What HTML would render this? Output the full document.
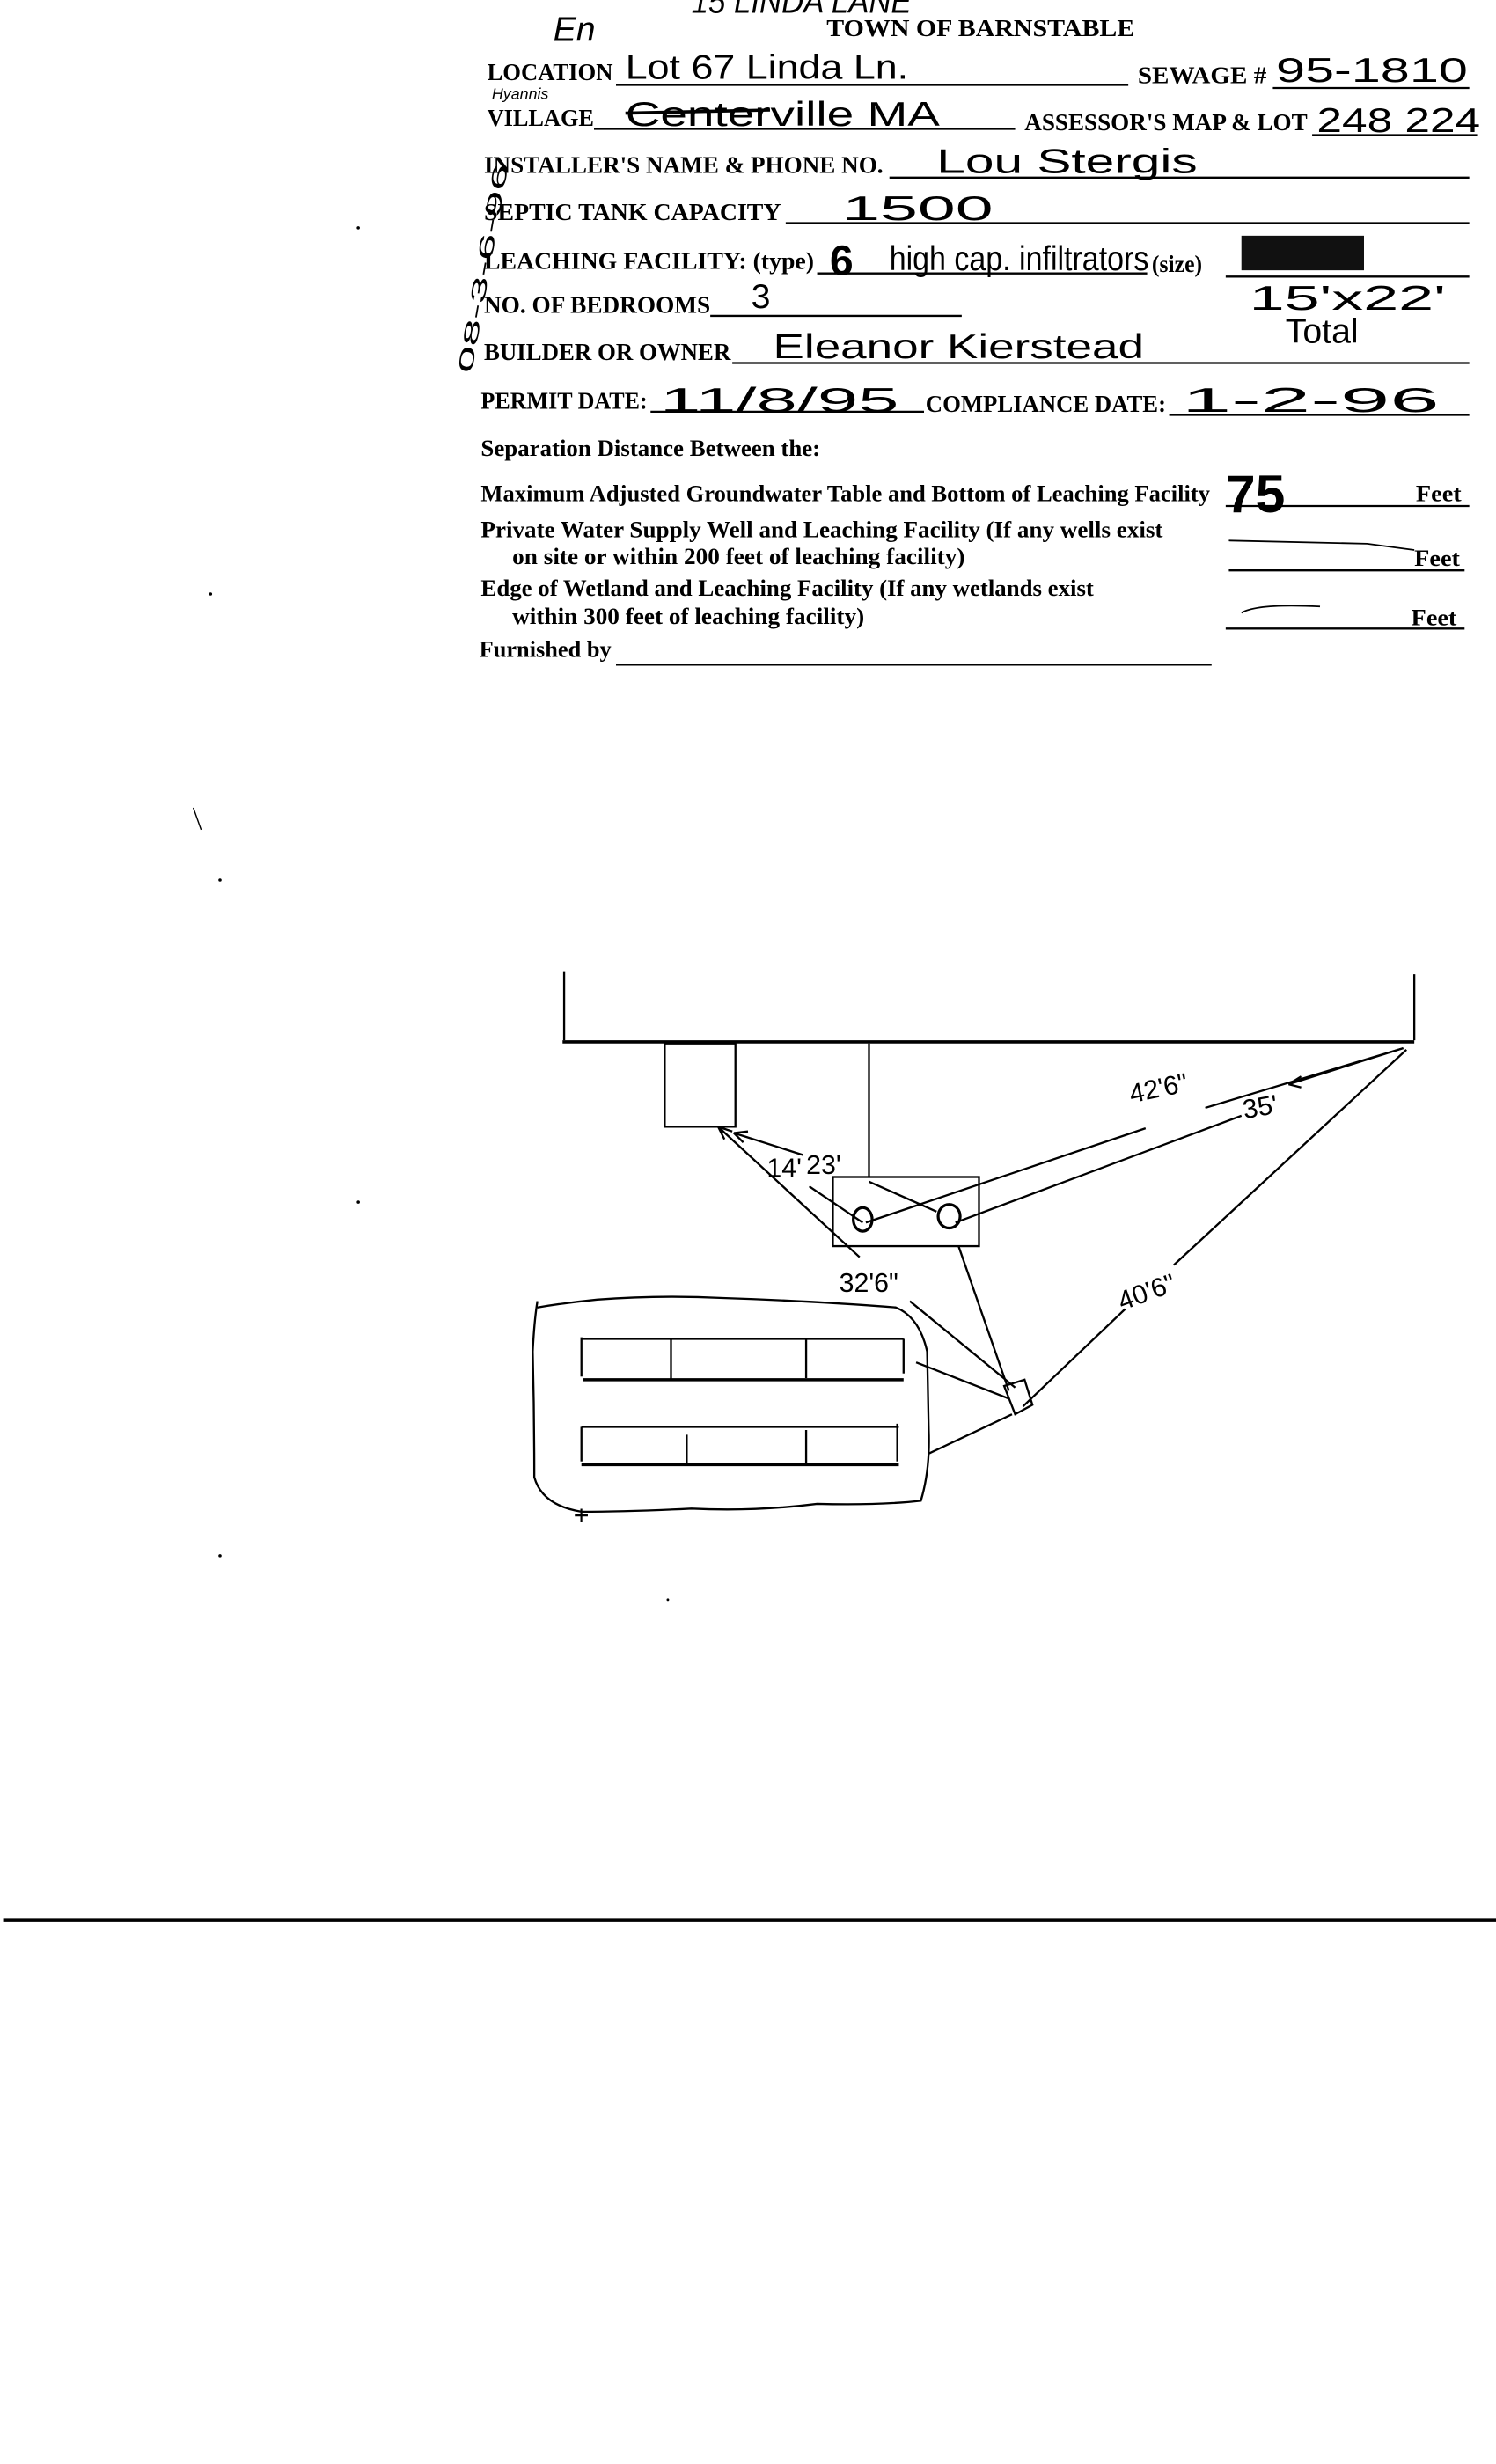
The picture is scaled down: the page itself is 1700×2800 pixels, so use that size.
<!DOCTYPE html>
<html><head><meta charset="utf-8"><style>
html,body{margin:0;padding:0;background:#fff;}
svg{display:block;}
.f{font-family:"Liberation Serif",serif;font-weight:bold;font-size:15.5px;fill:#000;}
.g{font-family:"Liberation Serif",serif;font-weight:bold;font-size:14.5px;fill:#000;}
.h{font-family:"Liberation Sans",sans-serif;font-size:22px;fill:#000;}
.d{font-family:"Liberation Sans",sans-serif;font-size:17px;fill:#000;}
</style></head><body>
<svg width="1700" height="2800" viewBox="0 0 952 1568" xmlns="http://www.w3.org/2000/svg">
<rect width="952" height="1568" fill="#fff"/>
<g stroke="#000" fill="none">
<line x1="392" y1="54" x2="718" y2="54" stroke-width="1.3"/>
<line x1="810" y1="56" x2="935" y2="56" stroke-width="1.3"/>
<line x1="378" y1="82" x2="646" y2="82" stroke-width="1.3"/>
<line x1="835" y1="86" x2="940" y2="86" stroke-width="1.3"/>
<line x1="566" y1="113" x2="935" y2="113" stroke-width="1.3"/>
<line x1="500" y1="142" x2="935" y2="142" stroke-width="1.3"/>
<line x1="520" y1="174" x2="730" y2="174" stroke-width="1.3"/>
<line x1="780" y1="176" x2="935" y2="176" stroke-width="1.3"/>
<line x1="452" y1="201" x2="612" y2="201" stroke-width="1.3"/>
<line x1="466" y1="231" x2="935" y2="231" stroke-width="1.3"/>
<line x1="414" y1="262" x2="588" y2="262" stroke-width="1.3"/>
<line x1="744" y1="264" x2="935" y2="264" stroke-width="1.3"/>
<line x1="780" y1="322" x2="935" y2="322" stroke-width="1.3"/>
<line x1="782" y1="363" x2="932" y2="363" stroke-width="1.3"/>
<line x1="780" y1="400" x2="932" y2="400" stroke-width="1.3"/>
<line x1="392" y1="423" x2="771" y2="423" stroke-width="1.3"/>
<path d="M782 344 L870 346 L900 350" stroke-width="1"/>
<path d="M790 390 Q800 384 840 386" stroke-width="1"/>
</g>
<text class="f" x="526" y="23" textLength="196" lengthAdjust="spacingAndGlyphs">TOWN OF BARNSTABLE</text>
<text class="f" x="310" y="51" textLength="80" lengthAdjust="spacingAndGlyphs">LOCATION</text>
<text class="f" x="724" y="53" textLength="82" lengthAdjust="spacingAndGlyphs">SEWAGE #</text>
<text class="f" x="310" y="80" textLength="68" lengthAdjust="spacingAndGlyphs">VILLAGE</text>
<text class="f" x="652" y="83" textLength="180" lengthAdjust="spacingAndGlyphs">ASSESSOR'S MAP &amp; LOT</text>
<text class="f" x="308" y="110" textLength="254" lengthAdjust="spacingAndGlyphs">INSTALLER'S NAME &amp; PHONE NO.</text>
<text class="f" x="308" y="140" textLength="189" lengthAdjust="spacingAndGlyphs">SEPTIC TANK CAPACITY</text>
<text class="f" x="308" y="171" textLength="210" lengthAdjust="spacingAndGlyphs">LEACHING FACILITY: (type)</text>
<text class="f" x="733" y="173" textLength="32" lengthAdjust="spacingAndGlyphs">(size)</text>
<text class="f" x="308" y="199" textLength="144" lengthAdjust="spacingAndGlyphs">NO. OF BEDROOMS</text>
<text class="f" x="308" y="229" textLength="157" lengthAdjust="spacingAndGlyphs">BUILDER OR OWNER</text>
<text class="f" x="306" y="260" textLength="106" lengthAdjust="spacingAndGlyphs">PERMIT DATE:</text>
<text class="f" x="589" y="262" textLength="153" lengthAdjust="spacingAndGlyphs">COMPLIANCE DATE:</text>
<text class="g" x="306" y="290" textLength="216" lengthAdjust="spacingAndGlyphs">Separation Distance Between the:</text>
<text class="g" x="306" y="319" textLength="464" lengthAdjust="spacingAndGlyphs">Maximum Adjusted Groundwater Table and Bottom of Leaching Facility</text>
<text class="g" x="901" y="319" textLength="29" lengthAdjust="spacingAndGlyphs">Feet</text>
<text class="g" x="306" y="342" textLength="434" lengthAdjust="spacingAndGlyphs">Private Water Supply Well and Leaching Facility  (If any wells exist</text>
<text class="g" x="326" y="359" textLength="288" lengthAdjust="spacingAndGlyphs">on site or within 200 feet of leaching facility)</text>
<text class="g" x="900" y="360" textLength="29" lengthAdjust="spacingAndGlyphs">Feet</text>
<text class="g" x="306" y="379" textLength="390" lengthAdjust="spacingAndGlyphs">Edge of Wetland and Leaching Facility (If any wetlands exist</text>
<text class="g" x="326" y="397" textLength="224" lengthAdjust="spacingAndGlyphs">within 300 feet of leaching facility)</text>
<text class="g" x="898" y="398" textLength="29" lengthAdjust="spacingAndGlyphs">Feet</text>
<text class="g" x="305" y="418" textLength="84" lengthAdjust="spacingAndGlyphs">Furnished by</text>
<text class="h" x="440" y="8" font-size="14" textLength="140" lengthAdjust="spacingAndGlyphs" font-style="italic">15 LINDA LANE</text>
<text class="h" x="352" y="26" font-size="16" font-style="italic">En</text>
<text class="h" x="398" y="50" textLength="180" lengthAdjust="spacingAndGlyphs">Lot 67 Linda Ln.</text>
<text class="h" x="812" y="52" textLength="122" lengthAdjust="spacingAndGlyphs">95-1810</text>
<text class="h" x="313" y="63" style="font-size:10px" font-style="italic">Hyannis</text>
<text class="h" x="398" y="80" textLength="200" lengthAdjust="spacingAndGlyphs">Centerville MA</text>
<line x1="398" y1="72" x2="490" y2="70" stroke="#000" stroke-width="2"/>
<text class="h" x="838" y="84" textLength="104" lengthAdjust="spacingAndGlyphs">248 224</text>
<text class="h" x="596" y="110" textLength="166" lengthAdjust="spacingAndGlyphs">Lou Stergis</text>
<text class="h" x="536" y="140" textLength="96" lengthAdjust="spacingAndGlyphs">1500</text>
<text class="h" x="528" y="175" style="font-size:27px;font-weight:bold">6</text>
<text class="h" x="566" y="172" font-size="17" textLength="165" lengthAdjust="spacingAndGlyphs">high cap. infiltrators</text>
<rect x="790" y="150" width="78" height="22" fill="#111"/>
<text class="h" x="478" y="196" font-size="24">3</text>
<text class="h" x="795" y="197" font-size="20" textLength="125" lengthAdjust="spacingAndGlyphs">15'x22'</text>
<text class="h" x="818" y="218" font-size="18">Total</text>
<text class="h" x="492" y="228" textLength="236" lengthAdjust="spacingAndGlyphs">Eleanor  Kierstead</text>
<text class="h" x="420" y="262" font-size="26" textLength="152" lengthAdjust="spacingAndGlyphs">11/8/95</text>
<text class="h" x="752" y="262" font-size="26" textLength="164" lengthAdjust="spacingAndGlyphs">1-2-96</text>
<text class="h" x="780" y="326" style="font-size:34px;font-weight:bold">75</text>
<text class="h" x="0" y="0" style="font-size:13px" transform="translate(300,238) rotate(-80)" textLength="135" lengthAdjust="spacingAndGlyphs">08-3-6-96</text>
<g fill="#000"><circle cx="228" cy="145" r="1"/><circle cx="134" cy="378" r="1"/><circle cx="140" cy="560" r="1"/><circle cx="228" cy="765" r="1"/><circle cx="140" cy="990" r="1"/><circle cx="425" cy="1018" r="0.8"/></g>
<line x1="123" y1="514" x2="128" y2="528" stroke="#000" stroke-width="0.8"/>
<g stroke="#000" fill="none" stroke-width="1.3">
<line x1="359" y1="618" x2="359" y2="662"/>
<line x1="900" y1="620" x2="900" y2="662"/>
<line x1="358" y1="663" x2="900" y2="663" stroke-width="2"/>
<rect x="423" y="664" width="45" height="53"/>
<line x1="553" y1="664" x2="553" y2="749"/>
<rect x="530" y="749" width="93" height="44"/>
<ellipse cx="549" cy="776" rx="6" ry="7.5" stroke-width="1.8"/>
<ellipse cx="604" cy="774" rx="7" ry="7.5" stroke-width="1.8"/>
<line x1="547" y1="800" x2="457" y2="717"/>
<path d="M457 717 L466 720 M457 717 L461 725"/>
<line x1="511" y1="735" x2="467" y2="721"/>
<path d="M467 721 L476 720 M467 721 L473 727"/>
<line x1="515" y1="755" x2="549" y2="778"/>
<line x1="553" y1="752" x2="596" y2="771"/>
<line x1="551" y1="778" x2="729" y2="718"/>
<line x1="767" y1="705" x2="893" y2="667"/>
<line x1="608" y1="778" x2="790" y2="710"/>
<line x1="820" y1="690" x2="893" y2="667"/>
<path d="M820 690 L828 685 M820 690 L828 692"/>
<line x1="895" y1="668" x2="747" y2="805"/>
<line x1="716" y1="833" x2="651" y2="895"/>
<line x1="610" y1="793" x2="642" y2="885"/>
<line x1="579" y1="828" x2="646" y2="883"/>
<line x1="583" y1="867" x2="642" y2="890"/>
<line x1="591" y1="925" x2="644" y2="900"/>
<path d="M639 882 L652 878 L657 894 L646 900 Z"/>
<path d="M342 832 Q360 829 380 827 Q420 824 460 826 Q520 828 570 832 Q585 838 590 860 L591 910 Q592 935 586 955 Q560 958 520 957 Q480 962 440 960 Q400 962 370 962 Q345 958 340 940 Q340 900 339 860 Q340 840 342 828"/>
<line x1="370" y1="852" x2="575" y2="852"/>
<line x1="371" y1="878" x2="575" y2="878" stroke-width="2"/>
<line x1="370" y1="851" x2="370" y2="876"/>
<line x1="427" y1="852" x2="427" y2="878"/>
<line x1="513" y1="852" x2="513" y2="877"/>
<line x1="575" y1="852" x2="575" y2="874"/>
<line x1="370" y1="908" x2="572" y2="908"/>
<line x1="370" y1="932" x2="572" y2="932" stroke-width="2"/>
<line x1="370" y1="908" x2="370" y2="930"/>
<line x1="437" y1="913" x2="437" y2="932"/>
<line x1="513" y1="910" x2="513" y2="932"/>
<line x1="571" y1="906" x2="571" y2="930"/>
</g>
<text class="d" x="488" y="749">14'</text>
<text class="d" x="513" y="747">23'</text>
<text class="d" x="720" y="702" transform="rotate(-12 720 702)">42'6"</text>
<text class="d" x="792" y="712" transform="rotate(-10 792 712)">35'</text>
<text class="d" x="534" y="822">32'6"</text>
<text class="d" x="714" y="834" transform="rotate(-20 714 834)">40'6"</text>
<text class="d" x="365" y="970" font-size="9">+</text>
<line x1="2" y1="1222" x2="952" y2="1222" stroke="#000" stroke-width="2"/>
</svg>
</body></html>
